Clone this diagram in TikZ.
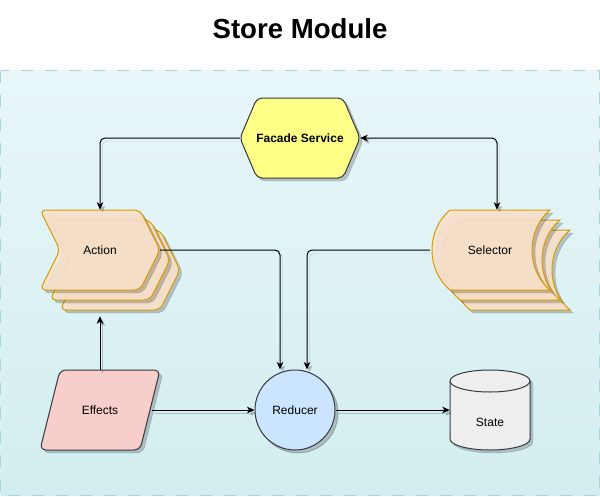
\documentclass[tikz,border=0pt]{standalone}
\usepackage{fontspec}
\setmainfont{Liberation Sans}
\usetikzlibrary{arrows.meta}
\definecolor{bgtop}{HTML}{E8F6F8}
\definecolor{bgbot}{HTML}{D3EEF0}
\definecolor{bgline}{HTML}{A6D6DC}
\definecolor{darkline}{HTML}{36393D}
\definecolor{hexfill}{HTML}{FFFF88}
\definecolor{orangefill}{HTML}{FAE3CC}
\definecolor{orangeline}{HTML}{D79B00}
\definecolor{redfill}{HTML}{F8CECC}
\definecolor{bluefill}{HTML}{CCE5FF}
\definecolor{greyfill}{HTML}{EEEEEE}
\tikzset{
  shd/.style={preaction={fill=black,draw=black,opacity=0.2,transform canvas={shift={(3pt,-3pt)}}}},
  eshd/.style={preaction={draw=black,opacity=0.2,transform canvas={shift={(2.5pt,-3pt)}}}},
  shapeline/.style={line width=1pt,draw=darkline},
  stackshape/.style={line width=1pt,draw=orangeline,fill=orangefill,fill opacity=0.9,shd,rounded corners=6pt},
  lbl/.style={font=\fontsize{12}{14}\selectfont,text=black,inner sep=0pt},
  box/.style={minimum width=120pt,minimum height=80pt,inner sep=0pt,font=\fontsize{12}{14}\selectfont},
  tipa/.tip={Stealth[length=7.5pt,width=6.5pt,inset=2pt]},
  conn/.style={line width=1pt,draw=black,rounded corners=5pt,-tipa,eshd},
}
\begin{document}
\begin{tikzpicture}[x=1pt,y=-1pt]
\useasboundingbox (0,0) rectangle (600,496);
\fill[white] (0,0) rectangle (600,496);
% container
\shade[top color=bgtop,bottom color=bgbot] (0.5,70.5) rectangle (599.5,495.5);
\draw[bgline,line width=1pt,dash pattern=on 12pt off 12pt] (0.5,70.5) rectangle (599.5,495.5);
% title
\node[anchor=base,font=\bfseries\fontsize{27.6}{30}\selectfont,inner sep=0pt] (title) at (300,38) {Store Module};
% facade hexagon
\draw[shapeline,fill=hexfill,shd,rounded corners=5pt] (240,138) -- (257,98) -- (343,98) -- (360,138) -- (343,178) -- (257,178) -- cycle;
\node[box,font=\bfseries\fontsize{12}{14}\selectfont] (facade) at (300,138) {Facade Service};
% action stack
\foreach \d in {20,10,0}{
  \draw[stackshape] (40+\d,210+\d) -- (140+\d,210+\d) -- (160+\d,250+\d) -- (140+\d,290+\d) -- (40+\d,290+\d) -- (60+\d,250+\d) -- cycle;
}
\node[box] (actionback) at (120,270) {};
\node[box] (action) at (100,250) {Action};
% selector stack
\foreach \d in {20,10,0}{
  \draw[stackshape,rounded corners=0pt] (450+\d,210+\d) -- (550+\d,210+\d) .. controls (526+\d,230+\d) and (526+\d,270+\d) .. (550+\d,290+\d) -- (450+\d,290+\d) .. controls (426+\d,270+\d) and (426+\d,230+\d) .. (450+\d,210+\d) -- cycle;
}
\node[box] (selector) at (490,250) {Selector};
% effects
\draw[shapeline,fill=redfill,shd,rounded corners=6pt] (60,370) -- (160,370) -- (140,450) -- (40,450) -- cycle;
\node[box] (effects) at (100,410) {Effects};
% reducer
\node[circle,shapeline,fill=bluefill,shd,minimum size=80pt,inner sep=0pt,font=\fontsize{12}{14}\selectfont] (reducer) at (295,410) {Reducer};
% state cylinder
\draw[shapeline,fill=greyfill,shd] (450,381) -- (450,439) .. controls (450,445.1) and (467.9,450) .. (490,450) .. controls (512.1,450) and (530,445.1) .. (530,439) -- (530,381) .. controls (530,374.9) and (512.1,370) .. (490,370) .. controls (467.9,370) and (450,374.9) .. (450,381) -- cycle;
\draw[shapeline] (450,381) .. controls (450,387.1) and (467.9,392) .. (490,392) .. controls (512.1,392) and (530,387.1) .. (530,381);
\node[minimum width=80pt,minimum height=80pt,inner sep=0pt] (state) at (490,410) {};
\node[lbl] (statelbl) at (490,422) {State};
% connectors
\draw[conn] (facade.west) -| (action.north);
\draw[conn,tipa-tipa] (facade.east) -| ([xshift=7pt]selector.north);
\draw[conn] (action.east) -| ([xshift=-15pt]reducer.north);
\draw[conn] (selector.west) -| ([xshift=12pt]reducer.north);
\draw[conn] (effects.north) -- ([yshift=-6pt]effects.north |- actionback.south);
\draw[conn] ([xshift=-8pt]effects.east) -- (reducer.west);
\draw[conn] (reducer.east) -- (state.west);
\end{tikzpicture}
\end{document}
